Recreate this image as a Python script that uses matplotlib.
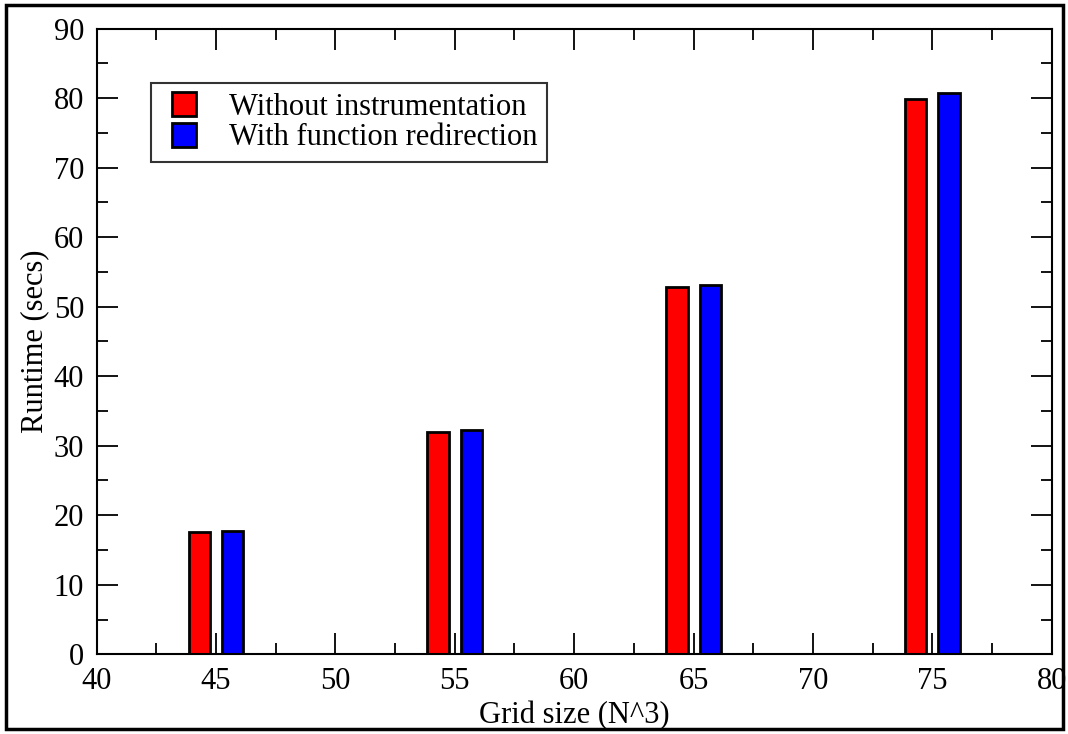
import matplotlib
matplotlib.use('Agg')
import matplotlib.pyplot as plt
from matplotlib.patches import Rectangle
from matplotlib.container import BarContainer
from matplotlib.legend_handler import HandlerPatch, update_from_first_child
from matplotlib.ticker import MultipleLocator

# grid sizes and runtimes (secs)
grid_sizes = [45, 55, 65, 75]
without_instr = [17.6, 32.0, 52.8, 79.9]
with_redirect = [17.7, 32.3, 53.1, 80.7]
labels = ["Without instrumentation", "With function redirection"]

plt.rcParams['font.family'] = ['Liberation Serif', 'DejaVu Serif']

fig = plt.figure(figsize=(10.68, 7.34), dpi=100)
ax = fig.add_axes([0.0905, 0.1086, 0.8942, 0.8524])

off = 0.7
w = 0.9
ax.bar([g - off for g in grid_sizes], without_instr, width=w, color='#ff0000',
       edgecolor='black', linewidth=2, label=labels[0])
ax.bar([g + off for g in grid_sizes], with_redirect, width=w, color='#0000ff',
       edgecolor='black', linewidth=2, label=labels[1])

ax.set_xlim(40, 80)
ax.set_ylim(0, 90)
ax.xaxis.set_major_locator(MultipleLocator(5))
ax.xaxis.set_minor_locator(MultipleLocator(2.5))
ax.yaxis.set_major_locator(MultipleLocator(10))
ax.yaxis.set_minor_locator(MultipleLocator(5))
ax.tick_params(which='both', direction='in', top=True, right=True, labelsize=22)
ax.tick_params(which='major', length=15, width=1.3, pad=9)
ax.tick_params(which='minor', length=8, width=1.3)
for s in ax.spines.values():
    s.set_linewidth(1.5)

ax.set_xlabel("Grid size (N^3)", fontsize=22, labelpad=4)
ax.set_ylabel("Runtime (secs)", fontsize=22, labelpad=3)


# small square legend keys, set in a bit from the left of the box
def square_key(legend, orig_handle, xdescent, ydescent, width, height, fontsize):
    side = 17.5  # points
    return Rectangle((-xdescent + width - side, -ydescent + (height - side) / 2),
                     side, side)


key_handler = HandlerPatch(patch_func=square_key, update_func=update_from_first_child)
leg = ax.legend(loc='upper left', bbox_to_anchor=(0.0565, 0.913), fontsize=22,
                frameon=True, fancybox=False, handlelength=1.18, handleheight=0.8,
                handletextpad=1.1, labelspacing=0.05, borderpad=0.3,
                borderaxespad=0, handler_map={BarContainer: key_handler})
leg.get_frame().set_edgecolor('black')
leg.get_frame().set_linewidth(1.5)

# border round the whole picture
fig.patches.append(Rectangle((6 / 1068, 5 / 734), 1057 / 1068, 724 / 734,
                             transform=fig.transFigure, fill=False,
                             edgecolor='black', linewidth=2.5))

fig.savefig("out.png", dpi=100)
